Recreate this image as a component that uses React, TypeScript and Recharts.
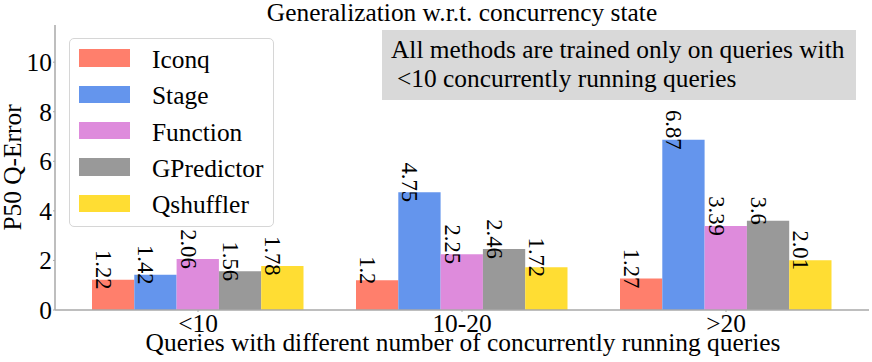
import React from 'react';
import { BarChart, Bar, XAxis, YAxis, LabelList } from 'recharts';

const categories = ['<10', '10-20', '>20'];
const iconq = [1.22, 1.2, 1.27];
const stage = [1.42, 4.75, 6.87];
const func = [2.06, 2.25, 3.39];
const gpredictor = [1.56, 2.46, 3.6];
const qshuffler = [1.78, 1.72, 2.01];
const yTicks = [0, 2, 4, 6, 8, 10];

const seriesNames = ['Iconq', 'Stage', 'Function', 'GPredictor', 'Qshuffler'];
const seriesColors = ['#FF7F6C', '#6495ED', '#DE8BDC', '#999999', '#FFDD33'];
const seriesValues = [iconq, stage, func, gpredictor, qshuffler];

const data = categories.map((c, i) => {
  const row: Record<string, any> = { cat: c };
  seriesNames.forEach((n, j) => {
    row[n] = seriesValues[j][i];
  });
  return row;
});

const FONT = '"Liberation Serif", "Times New Roman", serif';
const SPINE = '#a8a8a8';
const FS = 25.4;

const renderValue = (props: any) => {
  const { x, y, width, value } = props;
  const cx = Number(x) + Number(width) / 2 - 9.5;
  const cy = Number(y) - 10;
  return (
    <text
      x={cx}
      y={cy}
      transform={`rotate(90, ${cx}, ${cy})`}
      textAnchor="middle"
      dominantBaseline="central"
      fontSize={22.6}
      fontFamily={FONT}
      fill="#000"
    >
      {String(value)}
    </text>
  );
};

export default function App() {
  return (
    <div style={{ position: 'absolute', left: 0, top: 0, width: 872, height: 362, background: '#fff' }}>
      <BarChart
        width={872}
        height={362}
        data={data}
        margin={{ top: 25, right: 3, bottom: 0, left: 0 }}
        barGap={0}
        barSize={42.3}
      >
        <XAxis
          dataKey="cat"
          height={52}
          padding={{ left: 11, right: 11 }}
          interval={0}
          tickSize={2}
          tickMargin={2}
          tick={{ fill: '#000', fontSize: FS, fontFamily: FONT }}
          axisLine={{ stroke: SPINE, strokeWidth: 1.5 }}
          tickLine={{ stroke: SPINE }}
        />
        <YAxis
          width={55}
          domain={[0, 11.5]}
          ticks={yTicks}
          allowDataOverflow
          tickSize={2}
          tickMargin={1}
          tick={{ fill: '#000', fontSize: FS, fontFamily: FONT }}
          axisLine={{ stroke: SPINE, strokeWidth: 1.5 }}
          tickLine={{ stroke: SPINE }}
        />
        <XAxis
          xAxisId="top"
          orientation="top"
          dataKey="cat"
          height={0}
          tick={false}
          tickLine={false}
          axisLine={{ stroke: SPINE, strokeWidth: 1.5 }}
        />
        <YAxis
          yAxisId="right"
          orientation="right"
          width={0}
          domain={[0, 11.5]}
          tick={false}
          tickLine={false}
          axisLine={{ stroke: SPINE, strokeWidth: 1.5 }}
        />
        {seriesNames.map((n, j) => (
          <Bar key={n} dataKey={n} fill={seriesColors[j]} isAnimationActive={false}>
            <LabelList dataKey={n} content={renderValue} />
          </Bar>
        ))}
      </BarChart>

      <svg
        width={872}
        height={362}
        style={{ position: 'absolute', left: 0, top: 0, pointerEvents: 'none' }}
        fontFamily={FONT}
      >
        <text x={462} y={20.5} textAnchor="middle" fontSize={FS} fill="#000">
          Generalization w.r.t. concurrency state
        </text>
        <text x={463} y={351} textAnchor="middle" fontSize={FS} fill="#000">
          Queries with different number of concurrently running queries
        </text>
        <text x={21} y={167.5} transform="rotate(-90, 21, 167.5)" textAnchor="middle" fontSize={FS} fill="#000">
          P50 Q-Error
        </text>
        <rect x={382} y={30} width={474} height={70} fill="#d9d9d9" />
        <text x={391} y={57.5} fontSize={FS} fill="#000">
          All methods are trained only on queries with
        </text>
        <text x={397} y={87} fontSize={FS} fill="#000">
          {'<10 concurrently running queries'}
        </text>
      </svg>

      <div
        style={{
          position: 'absolute',
          left: 69,
          top: 38,
          width: 205,
          height: 189,
          boxSizing: 'border-box',
          border: '1px solid #d6d6d6',
          borderRadius: 5,
          background: 'rgba(255,255,255,0.8)',
          paddingTop: 1,
          fontFamily: FONT,
          fontSize: FS,
        }}
      >
        {seriesNames.map((n, j) => (
          <div key={n} style={{ height: 36.3, display: 'flex', alignItems: 'center', position: 'relative' }}>
            <div style={{ position: 'absolute', left: 9, width: 51, height: 17.5, background: seriesColors[j] }} />
            <div style={{ position: 'absolute', left: 82, lineHeight: '36.3px', top: 1, color: '#000' }}>{n}</div>
          </div>
        ))}
      </div>
    </div>
  );
}
